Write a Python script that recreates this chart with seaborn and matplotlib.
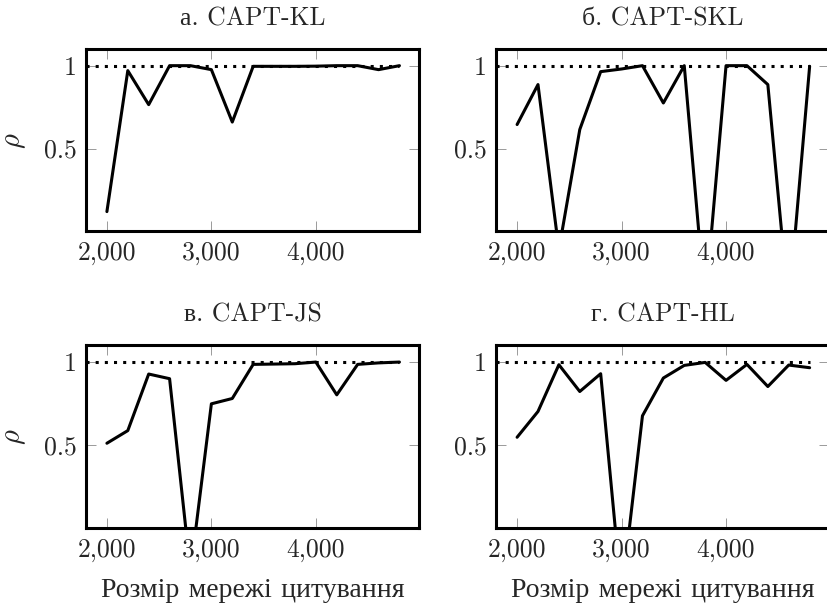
import numpy as np
import pandas as pd
import matplotlib
matplotlib.use("Agg")
import matplotlib.pyplot as plt
import seaborn as sns

# network sizes on the x axis
sizes = [2000, 2200, 2400, 2600, 2800, 3000, 3200, 3400,
         3600, 3800, 4000, 4200, 4400, 4600, 4800]

# rho values
capt_kl = [0.12, 0.97, 0.765, 1.0, 1.0, 0.976, 0.66, 0.996,
           0.996, 0.996, 0.997, 1.0, 1.0, 0.976, 1.0]
capt_skl = [0.645, 0.886, -0.11, 0.615, 0.964, 0.98, 1.0, 0.775,
            1.0, -0.44, 1.0, 1.0, 0.886, -0.46, 0.996]
capt_js = [0.512, 0.588, 0.928, 0.90, -0.26, 0.749, 0.781, 0.986,
           0.988, 0.99, 1.0, 0.803, 0.986, 0.995, 1.0]
capt_hl = [0.548, 0.703, 0.984, 0.823, 0.93, -0.40, 0.677, 0.904,
           0.98, 0.998, 0.89, 0.986, 0.853, 0.982, 0.966]

titles = ["а. CAPT-KL", "б. CAPT-SKL", "в. CAPT-JS", "г. CAPT-HL"]
x_label = "Розмір мережі цитування"
y_label = r"$\rho$"

# dotted reference line at rho = 1
ref_x = [1800, 4800]
ref_y = [1, 1]

x_ticks = [2000, 3000, 4000]
x_tick_labels = ["2,000", "3,000", "4,000"]
y_ticks = [0.5, 1]
y_tick_labels = ["0.5", "1"]


def build_frame():
    frames = []
    for name, vals in zip(titles, [capt_kl, capt_skl, capt_js, capt_hl]):
        frames.append(pd.DataFrame({"size": sizes, "rho": vals, "method": name}))
    return pd.concat(frames, ignore_index=True)


if __name__ == "__main__":
    df = build_frame()

    sns.set_style("ticks")
    plt.rcParams["font.family"] = ["cmr10", "Liberation Serif"]
    plt.rcParams["mathtext.fontset"] = "cm"
    plt.rcParams["axes.unicode_minus"] = False

    fs = 18.5
    fig = plt.figure(figsize=(8.27, 6.06), dpi=100)

    # axes boxes in figure fractions (left, bottom, width, height)
    boxes = [
        (0.104, 0.618, 0.403, 0.301),
        (0.600, 0.618, 0.403, 0.301),
        (0.104, 0.128, 0.403, 0.302),
        (0.600, 0.128, 0.403, 0.302),
    ]

    for i, (title, box) in enumerate(zip(titles, boxes)):
        ax = fig.add_axes(box)
        sub = df[df["method"] == title]
        ax.plot(ref_x, ref_y, color="black", linewidth=2.2, linestyle=(0, (1, 2)))
        sns.lineplot(data=sub, x="size", y="rho", color="black",
                     linewidth=2.2, ax=ax, legend=False)

        ax.set_xlim(1800, 4990)
        ax.set_ylim(0, 1.1)
        ax.set_xticks(x_ticks)
        ax.set_xticklabels(x_tick_labels)
        ax.set_yticks(y_ticks)
        ax.set_yticklabels(y_tick_labels)
        ax.tick_params(direction="in", length=7, width=0.7, color="#9a9a9a",
                       top=True, right=True, labelsize=fs, pad=7)
        for sp in ax.spines.values():
            sp.set_visible(True)
            sp.set_linewidth(2.2)
            sp.set_color("black")

        ax.set_title(title, fontsize=fs, pad=17)
        ax.set_xlabel(x_label if i >= 2 else "", fontsize=20, labelpad=11)
        ax.set_ylabel(y_label if i % 2 == 0 else "", fontsize=fs + 2, labelpad=11)

    plt.savefig("out.png", dpi=100)
